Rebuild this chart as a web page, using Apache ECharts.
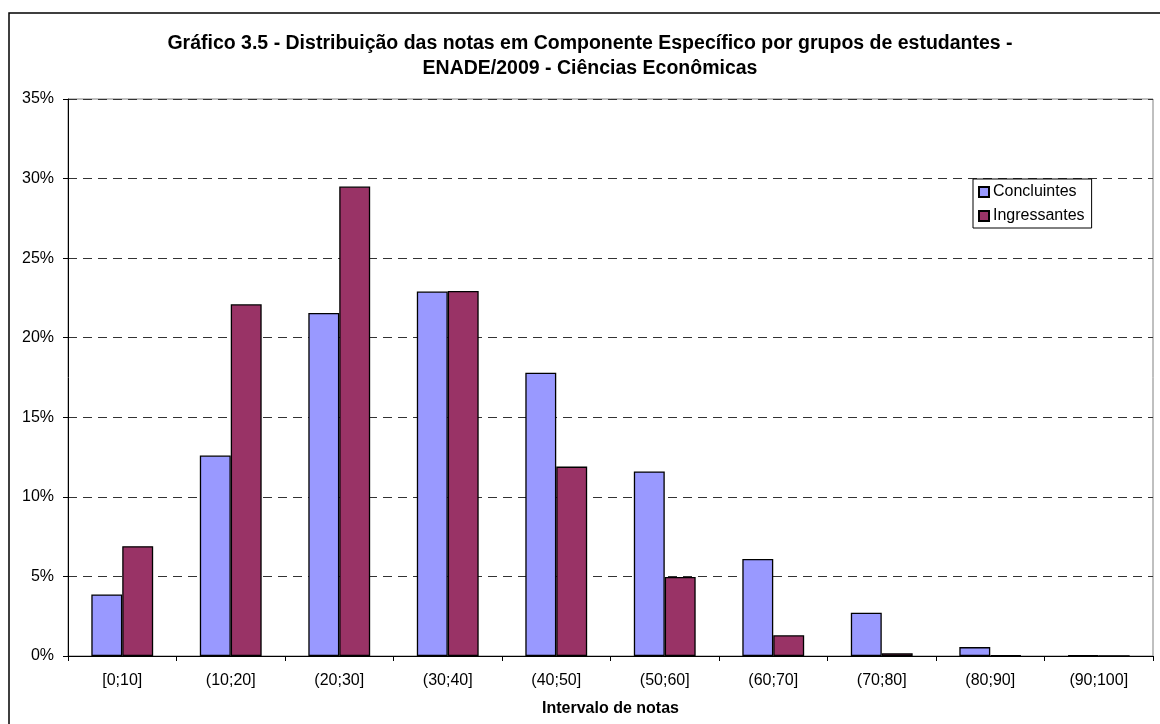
<!DOCTYPE html>
<html>
<head>
<meta charset="utf-8">
<script src="https://cdn.jsdelivr.net/npm/echarts@6/dist/echarts.min.js"></script>
<style>
  html, body { margin: 0; padding: 0; background: #fff; }
  #main { width: 1160px; height: 724px; }
</style>
</head>
<body>
<div id="main"></div>
<script>
// faixas de notas
var categorias = ['[0;10]', '(10;20]', '(20;30]', '(30;40]', '(40;50]', '(50;60]', '(60;70]', '(70;80]', '(80;90]', '(90;100]'];
// percentuais por grupo
var concluintes = [3.87, 12.6, 21.55, 22.9, 17.8, 11.6, 6.1, 2.72, 0.56, 0.03];
var ingressantes = [6.9, 22.1, 29.5, 22.94, 11.9, 4.96, 1.3, 0.17, 0.03, 0];
// eixo y
var yMax = 35;
var yStep = 5;

var fonte = '"Liberation Sans", Arial, sans-serif';
var chart = echarts.init(document.getElementById('main'));

var option = {
    backgroundColor: '#fff',
    animation: false,
    title: {
        text: 'Gráfico 3.5 - Distribuição das notas em Componente Específico por grupos de estudantes -\nENADE/2009 - Ciências Econômicas',
        left: 590,
        textAlign: 'center',
        top: 31,
        padding: 0,
        textStyle: {
            fontFamily: fonte,
            fontWeight: 'bold',
            fontSize: 19.5,
            lineHeight: 25,
            color: '#000'
        }
    },
    graphic: [
        {
            type: 'rect',
            shape: { x: 9, y: 13, width: 1300, height: 900 },
            style: { fill: 'none', stroke: '#000', lineWidth: 1.5 },
            silent: true
        }
    ],
    legend: {
        orient: 'vertical',
        left: 973,
        top: 179,
        padding: [4, 7, 3, 5],
        itemGap: 6,
        itemWidth: 10,
        itemHeight: 10,
        icon: 'rect',
        backgroundColor: '#fff',
        borderColor: '#000',
        borderWidth: 1,
        textStyle: { fontFamily: fonte, fontSize: 16, lineHeight: 18, color: '#000', padding: [0, 0, 0, -1] },
        data: ['Concluintes', 'Ingressantes']
    },
    grid: {
        left: 68,
        right: 7,
        top: 99,
        bottom: 68,
        show: true,
        borderColor: '#808080',
        borderWidth: 1
    },
    xAxis: {
        type: 'category',
        data: categorias,
        name: 'Intervalo de notas',
        nameLocation: 'middle',
        nameGap: 45,
        nameTextStyle: { fontFamily: fonte, fontWeight: 'bold', fontSize: 16, color: '#000' },
        axisLine: { lineStyle: { color: '#000', width: 1 } },
        axisTick: { show: true, length: 5, interval: 0, lineStyle: { color: '#000' } },
        axisLabel: { fontFamily: fonte, fontSize: 16, color: '#000', margin: 17, interval: 0 }
    },
    yAxis: {
        type: 'value',
        min: 0,
        max: yMax,
        interval: yStep,
        axisLine: { show: true, lineStyle: { color: '#000', width: 1 } },
        axisTick: { show: true, length: 5, lineStyle: { color: '#000' } },
        axisLabel: { fontFamily: fonte, fontSize: 16, color: '#000', margin: 14, formatter: '{value}%' },
        splitLine: { show: true, lineStyle: { color: '#333', type: [9, 6], width: 1 } }
    },
    series: [
        {
            name: 'Concluintes',
            type: 'bar',
            data: concluintes,
            barGap: '0%',
            barCategoryGap: '43%',
            itemStyle: { color: '#9999FF', borderColor: '#000', borderWidth: 1.3 }
        },
        {
            name: 'Ingressantes',
            type: 'bar',
            data: ingressantes,
            barGap: '0%',
            barCategoryGap: '43%',
            itemStyle: { color: '#993366', borderColor: '#000', borderWidth: 1.3 }
        }
    ]
};
chart.setOption(option);
</script>
</body>
</html>
